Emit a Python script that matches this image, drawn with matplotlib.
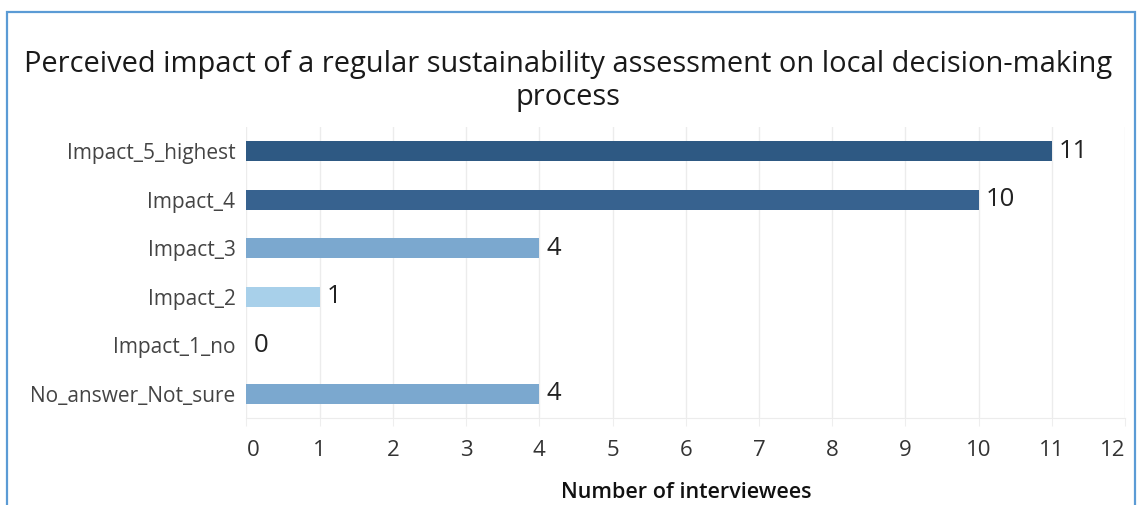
import matplotlib.pyplot as plt
from matplotlib.patches import Rectangle

# data
categories = ['Impact_5_highest', 'Impact_4', 'Impact_3', 'Impact_2', 'Impact_1_no', 'No_answer_Not_sure']
counts = [11, 10, 4, 1, 0, 4]
colors = ['#2e5983', '#37628f', '#7ba8cf', '#a8d0ea', '#d6e8f5', '#7ba8cf']
xticks = list(range(0, 13))

plt.rcParams['font.family'] = ['Open Sans', 'DejaVu Sans']

fig = plt.figure(figsize=(11.38, 5.05), dpi=100)
ax = fig.add_axes([0.2166, 0.1723, 0.772, 0.5762])

ypos = list(range(len(categories)))
ax.barh(ypos, counts, height=0.415, color=colors, zorder=3)
for y, v in zip(ypos, counts):
    ax.text(v + 0.1, y, str(v), va='center', ha='left', fontsize=18.5, color='#222222', zorder=4)

ax.set_ylim(len(categories) - 0.5, -0.5)
ax.set_xlim(0, 12)
ax.set_yticks(ypos)
ax.set_yticklabels(categories, fontsize=15, color='#444444')
ax.set_xticks(xticks)
ax.set_xticklabels([str(t) for t in xticks], fontsize=16, color='#333333')
labels = ax.get_xticklabels()
labels[0].set_ha('left')
labels[-1].set_ha('right')

ax.tick_params(axis='y', length=0, pad=8)
ax.tick_params(axis='x', length=6, color='#eeeeee', pad=10)
ax.grid(axis='x', color='#ececec', linewidth=1, zorder=0)
for s in ['top', 'right', 'left']:
    ax.spines[s].set_visible(False)
ax.spines['bottom'].set_color('#ececec')

ax.set_xlabel('Number of interviewees', fontsize=15.5, fontweight='semibold', color='#111111', labelpad=15)

fig.text(0.499, 0.84, 'Perceived impact of a regular sustainability assessment on local decision-making\nprocess',
         ha='center', va='center', fontsize=20.9, color='#1a1a1a', linespacing=1.2)

# blue frame around the chart
fig.patches.append(Rectangle((7 / 1138, -0.1), 1128 / 1138, 1.1 - 12 / 505, transform=fig.transFigure,
                             fill=False, edgecolor='#5b9bd5', linewidth=1.6))

fig.savefig('out.png', dpi=100)
